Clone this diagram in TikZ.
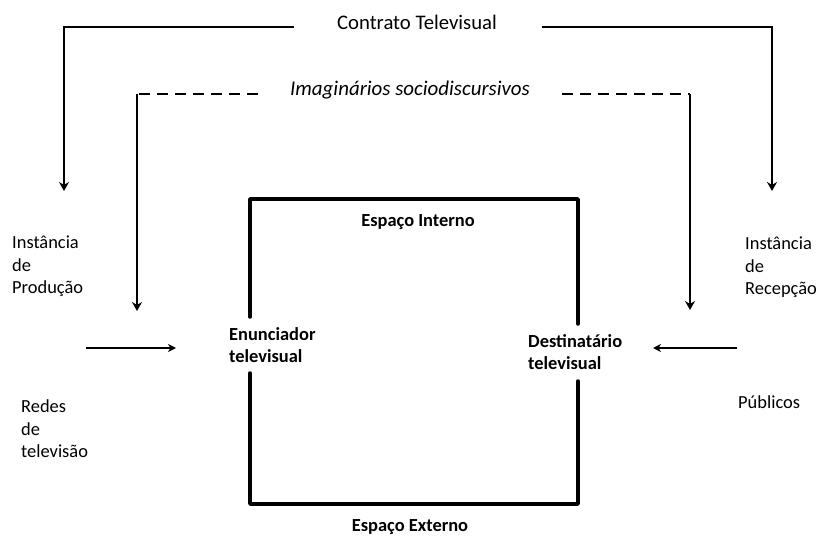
\documentclass[tikz,border=0pt]{standalone}
\usepackage{fontspec}
\setmainfont{Carlito}
\usetikzlibrary{arrows.meta}
\begin{document}
\begin{tikzpicture}[x=1bp,y=-1bp,
  txt/.style={inner sep=0pt,font=\fontsize{18.5}{22.5}\selectfont,align=left},
  bold/.style={txt,font=\fontsize{18.5}{22}\selectfont\bfseries},
  link/.style={line width=2.8bp,-{Stealth[length=9bp,width=10bp,inset=3bp]}},
  thinlink/.style={line width=2bp,-{Stealth[length=8bp,width=8bp,inset=2.5bp]}},
  frame/.style={line width=3.5bp,line cap=round,line join=round}]
\useasboundingbox (0,0) rectangle (817,537);

% titles
\node[txt,font=\fontsize{20.8}{22}\selectfont] (contrato) at (417,22) {Contrato Televisual};
\node[txt,font=\fontsize{21}{22}\selectfont\itshape] (imag) at (410,90) {Imaginários sociodiscursivos};

% side labels
\node[txt,anchor=north west] (prod) at (12,236) {Instância\\de\\Produção};
\node[txt,anchor=north west] (redes) at (21,400) {Redes\\de\\televisão};
\node[txt,anchor=north west] (recep) at (745,237) {Instância\\de\\Recepção};
\node[txt,anchor=west] (publ) at (738,402) {Públicos};

% inner box labels
\node[bold] (interno) at (418,222) {Espaço Interno};
\node[bold] (externo) at (410,527) {Espaço Externo};
\node[bold,anchor=west] (enun) at (229,345) {Enunciador\\televisual};
\node[bold,anchor=west] (dest) at (528,352) {Destinatário\\televisual};

% the box, open at both sides where the labels sit
\draw[frame] (250,317) -- (250,199) -- (578,199) -- (578,324);
\draw[frame] (578,381) -- (578,504) -- (250,504) -- (250,373);

% corner points of the connectors
\coordinate (c1s) at (294,27);
\coordinate (c1c) at (64,27);
\coordinate (c1e) at (64,191);
\coordinate (c2s) at (542,27);
\coordinate (c2c) at (772,27);
\coordinate (c2e) at (772,191);
\coordinate (d1s) at (258,94);
\coordinate (d1c) at (137,94);
\coordinate (d1e) at (137,311);
\coordinate (d2s) at (562,94);
\coordinate (d2c) at (690,94);
\coordinate (d2e) at (690,310);
\coordinate (h1s) at (86,348);
\coordinate (h1e) at (176,348);
\coordinate (h2s) at (737,348);
\coordinate (h2e) at (653,348);

% contract arrows
\draw[link] (c1s) -- (c1c) -- (c1e);
\draw[link] (c2s) -- (c2c) -- (c2e);

% imaginaries: dashed horizontal, solid descent
\draw[line width=2.8bp,dash pattern=on 11bp off 7bp] (d1s) -- (d1c);
\draw[link] (d1c) -- (d1e);
\draw[line width=2.8bp,dash pattern=on 11bp off 7bp] (d2s) -- (d2c);
\draw[link] (d2c) -- (d2e);

% horizontal arrows towards the box
\draw[thinlink] (h1s) -- (h1e);
\draw[thinlink] (h2s) -- (h2e);
\end{tikzpicture}
\end{document}
